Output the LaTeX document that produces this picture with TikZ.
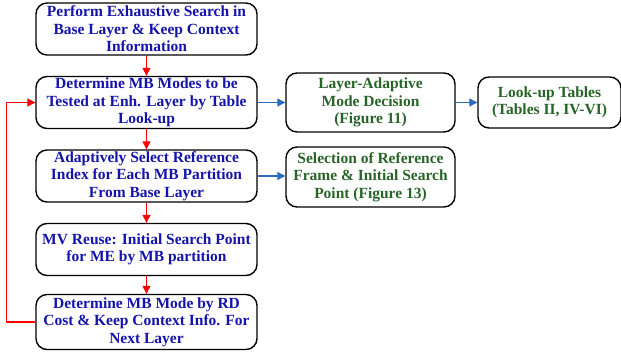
\documentclass[tikz,border=0pt]{standalone}
\usepackage{fontspec}
\setmainfont{Liberation Serif}
\usetikzlibrary{arrows.meta}
\definecolor{textblue}{RGB}{20,20,170}
\definecolor{textgreen}{RGB}{40,100,40}
\definecolor{arrowblue}{RGB}{40,110,190}
\tikzset{
    node distance=73.5pt, % center to center distance of the main column
    }

\begin{document}
\begin{tikzpicture}[
stepnode/.style={rectangle, rounded corners=11pt, draw=black, line width=1.4pt, minimum width=221pt, minimum height=52pt, align=center, font=\rmfamily\bfseries\fontsize{15.5}{17.5}\selectfont, text=textblue, inner sep=1pt},
sidenode/.style={stepnode, text=textgreen, minimum width=169pt, minimum height=59pt},
redarrow/.style={red, line width=1.2pt, -{Triangle[length=8pt,width=8pt]}},
bluearrow/.style={arrowblue, line width=1.2pt, -{Triangle[length=8pt,width=8pt]}},
]
\useasboundingbox (0,0) rectangle (621pt,-354pt);

\node[stepnode] (search) at (146.5pt,-29pt) {Perform Exhaustive Search in\\Base Layer \& Keep Context\\Information};
\node[stepnode] (modes) [below of=search] {Determine MB Modes to be\\Tested at Enh. Layer by Table\\Look-up};
\node[stepnode] (refidx) [below of=modes] {Adaptively Select Reference\\Index for Each MB Partition\\From Base Layer};
\node[stepnode] (mvreuse) [below of=refidx] {MV Reuse: Initial Search Point\\for ME by MB partition};
\node[stepnode, minimum height=55pt] (rdcost) [below of=mvreuse, yshift=1pt] {Determine MB Mode by RD\\Cost \& Keep Context Info. For\\Next Layer};

\node[sidenode] (adaptive) [right of=modes, node distance=224pt] {Layer-Adaptive\\Mode Decision\\(Figure 11)};
\node[sidenode, minimum width=143pt, minimum height=51pt] (lookup) [right of=adaptive, node distance=179pt] {Look-up Tables\\(Tables II, IV-VI)};
\node[sidenode, minimum height=60pt] (refframe) [right of=refidx, node distance=224pt, yshift=-1pt] {Selection of Reference\\Frame \& Initial Search\\Point (Figure 13)};

\draw[redarrow] (search.south) -- (modes.north);
\draw[redarrow] (modes.south) -- (refidx.north);
\draw[redarrow] (refidx.south) -- (mvreuse.north);
\draw[redarrow] (mvreuse.south) -- (rdcost.north);
\draw[redarrow] (rdcost.west) -- ++(-29pt,0) |- (modes.west);

\draw[bluearrow] (modes.east) -- (adaptive.west);
\draw[bluearrow] (adaptive.east) -- (lookup.west);
\draw[bluearrow] (refidx.east) -- (refidx.east -| refframe.west);
\end{tikzpicture}
\end{document}
